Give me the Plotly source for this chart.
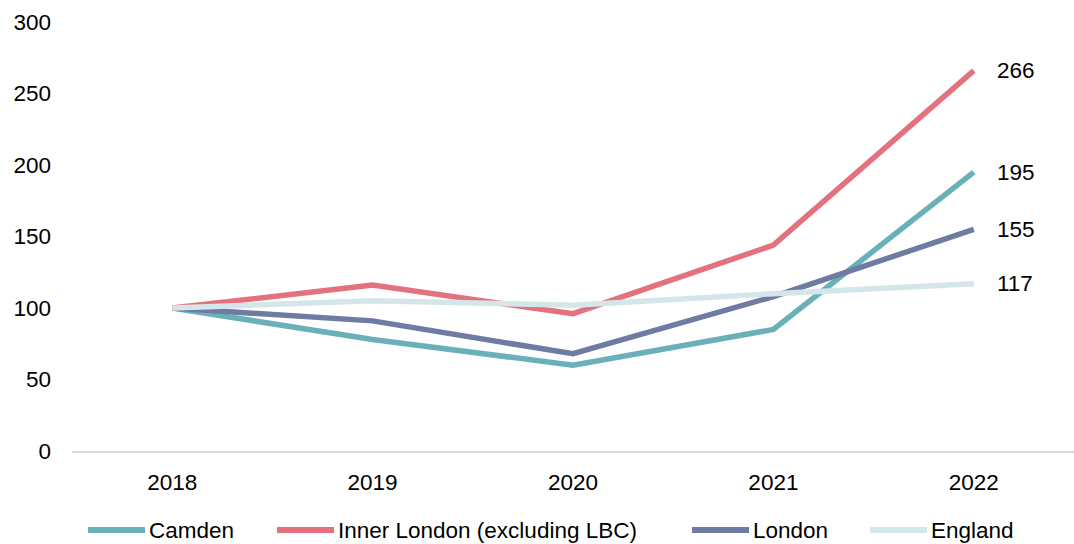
import plotly.graph_objects as go

years = ["2018", "2019", "2020", "2021", "2022"]
camden = [100, 78, 60, 85, 195]
inner_london = [100, 116, 96, 144, 266]
london = [100, 91, 68, 108, 155]
england = [100, 105, 102, 110, 117]

series = [
    ("Camden", camden, "#6AB0B8"),
    ("Inner London (excluding LBC)", inner_london, "#E3717E"),
    ("London", london, "#6E7BA2"),
    ("England", england, "#D4E6EA"),
]

W, H = 1074, 544
ML, MR, MT, MB = 72, 0, 22, 93
FONT = "Liberation Sans, Arial, sans-serif"
FS = 22.5

def px_to_paper_x(px):
    return (px - ML) / (W - ML - MR)

def px_to_paper_y(py):
    return (H - MB - py) / (H - MT - MB)

fig = go.Figure()
last_idx = len(years) - 1
for name, vals, color in series:
    fig.add_trace(go.Scatter(
        x=years, y=vals, name=name, mode="lines",
        line=dict(color=color, width=5.5),
        showlegend=False,
    ))
    fig.add_annotation(
        x=last_idx, y=vals[-1], xref="x", yref="y",
        text=str(vals[-1]), showarrow=False,
        xanchor="left", yanchor="middle", xshift=21,
        font=dict(family=FONT, size=FS, color="#000000"),
    )

# custom legend (line swatches + labels) below the plot
legend_starts = [88, 277, 692, 870]
legend_y = 530
for (name, vals, color), sx in zip(series, legend_starts):
    fig.add_shape(
        type="line", xref="paper", yref="paper",
        x0=px_to_paper_x(sx), x1=px_to_paper_x(sx + 57),
        y0=px_to_paper_y(legend_y), y1=px_to_paper_y(legend_y),
        line=dict(color=color, width=6),
    )
    fig.add_annotation(
        xref="paper", yref="paper",
        x=px_to_paper_x(sx + 59), y=px_to_paper_y(legend_y),
        text=name, showarrow=False, xanchor="left", yanchor="middle",
        font=dict(family=FONT, size=FS, color="#000000"),
    )

fig.update_layout(
    width=W, height=H,
    margin=dict(l=ML, r=MR, t=MT, b=MB),
    paper_bgcolor="white", plot_bgcolor="white",
    font=dict(family=FONT, size=FS, color="#000000"),
    showlegend=False,
    xaxis=dict(
        type="category", range=[-0.5, 4.5], showgrid=False,
        showline=True, linecolor="#D9D9D9", linewidth=1.5,
        ticks="", tickfont=dict(size=FS), ticklabelstandoff=10,
    ),
    yaxis=dict(
        range=[0, 300], dtick=50, showgrid=False, zeroline=False,
        showline=False, ticks="", tickfont=dict(size=FS),
        ticklabelstandoff=20,
    ),
)

fig.write_html("out.html")
